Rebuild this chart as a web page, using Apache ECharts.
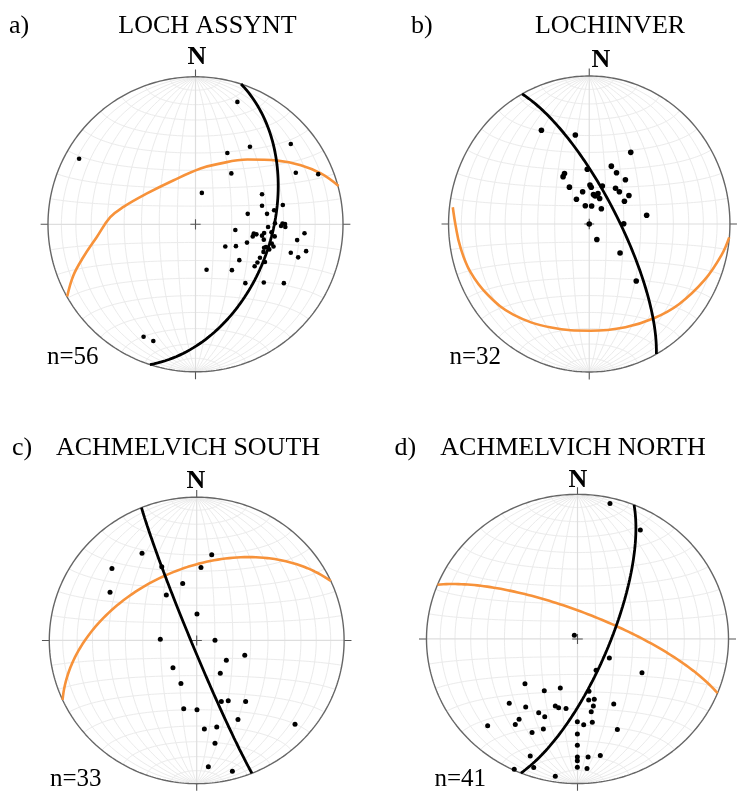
<!DOCTYPE html>
<html><head><meta charset="utf-8">
<script src="https://cdn.jsdelivr.net/npm/echarts@6/dist/echarts.min.js"></script>
<style>html,body{margin:0;padding:0;background:#fff}#c{width:744px;height:798px}</style>
</head><body><div id="c"></div>
<script>
// ---------- DATA (equal-area lower-hemisphere net, unit radius; [east, north]) ----------
const panelLabels = ['a)', 'b)', 'c)', 'd)'];
const siteNames = ['LOCH ASSYNT', 'LOCHINVER', 'ACHMELVICH SOUTH', 'ACHMELVICH NORTH'];
const sampleCounts = [56, 32, 33, 41];

const polesA = [[0.284,0.830],[-0.789,0.444],[0.369,0.526],[0.216,0.483],[0.646,0.544],[0.243,0.345],[0.680,0.350],[0.832,0.340],[0.043,0.213],[0.451,0.204],[0.451,0.126],[0.592,0.131],[0.533,0.095],[0.354,0.071],[0.485,0.071],[0.590,0.005],[0.607,0.002],[0.609,-0.018],[0.580,-0.012],[0.539,0.007],[0.492,-0.018],[0.270,-0.039],[0.395,-0.063],[0.413,-0.068],[0.388,-0.082],[0.451,-0.077],[0.465,-0.059],[0.515,-0.054],[0.537,-0.082],[0.739,-0.061],[0.463,-0.104],[0.349,-0.124],[0.689,-0.107],[0.202,-0.150],[0.274,-0.148],[0.517,-0.131],[0.529,-0.150],[0.465,-0.159],[0.478,-0.154],[0.646,-0.193],[0.750,-0.182],[0.437,-0.227],[0.696,-0.224],[0.297,-0.243],[0.420,-0.259],[0.471,-0.256],[0.401,-0.284],[0.075,-0.308],[0.247,-0.311],[0.338,-0.399],[0.463,-0.395],[0.599,-0.399],[-0.352,-0.762],[-0.286,-0.791],[0.461,-0.187],[0.500,-0.170]];
const polesB = [[-0.340,0.633],[-0.099,0.601],[0.295,0.484],[0.157,0.391],[-0.014,0.370],[-0.176,0.341],[-0.186,0.320],[0.194,0.346],[0.257,0.299],[-0.141,0.249],[0.005,0.264],[0.014,0.248],[0.093,0.257],[0.187,0.242],[0.214,0.218],[-0.047,0.218],[0.030,0.199],[0.062,0.205],[0.074,0.172],[0.282,0.193],[-0.091,0.167],[0.250,0.154],[-0.028,0.123],[0.017,0.122],[0.086,0.103],[0.408,0.059],[0.000,0.000],[0.245,0.002],[0.054,-0.105],[0.219,-0.196],[0.334,-0.385],[0.042,0.189]];
const polesC = [[-0.371,0.609],[0.102,0.599],[-0.575,0.502],[-0.237,0.514],[0.029,0.509],[-0.095,0.398],[-0.588,0.337],[-0.206,0.317],[0.002,0.185],[-0.247,0.009],[0.124,0.002],[0.326,-0.104],[0.201,-0.138],[-0.161,-0.190],[0.160,-0.229],[-0.107,-0.301],[0.167,-0.427],[0.214,-0.421],[0.332,-0.427],[-0.088,-0.477],[0.002,-0.484],[0.280,-0.552],[0.667,-0.585],[0.052,-0.619],[0.136,-0.604],[0.124,-0.717],[0.079,-0.882],[0.242,-0.914]];
const polesD = [[0.215,0.936],[0.416,0.753],[-0.021,0.026],[0.211,-0.132],[0.123,-0.217],[0.427,-0.234],[-0.348,-0.309],[-0.220,-0.358],[-0.114,-0.340],[0.076,-0.362],[0.074,-0.422],[0.111,-0.417],[0.105,-0.464],[-0.452,-0.444],[-0.343,-0.470],[-0.147,-0.464],[-0.125,-0.475],[-0.076,-0.481],[0.240,-0.450],[0.091,-0.503],[-0.257,-0.510],[-0.217,-0.538],[-0.387,-0.556],[-0.412,-0.591],[-0.001,-0.573],[0.041,-0.594],[0.098,-0.576],[-0.595,-0.601],[-0.301,-0.647],[-0.226,-0.623],[0.264,-0.627],[-0.001,-0.658],[-0.001,-0.735],[-0.313,-0.810],[-0.001,-0.817],[-0.001,-0.843],[0.070,-0.817],[0.151,-0.806],[-0.419,-0.901],[-0.290,-0.889],[-0.001,-0.887],[0.063,-0.896],[-0.147,-0.949]];

// black great circles: [dip direction, dip] in degrees
const planeA = [108, 47];
const planeB = [61.5, 74];
const planeC = [248, 87];
const planeD = [112, 73];

// orange girdles: traced curves ([east, north]) for a and b, great circles [dip direction, dip] for c and d
const girdleA = [[-0.870,-0.490],[-0.828,-0.347],[-0.760,-0.222],[-0.669,-0.086],[-0.578,0.048],[-0.488,0.118],[-0.329,0.209],[-0.148,0.299],[0.034,0.378],[0.148,0.408],[0.352,0.439],[0.556,0.432],[0.714,0.401],[0.850,0.345],[0.970,0.260]];
const girdleB = [[-0.970,0.113],[-0.950,-0.010],[-0.918,-0.150],[-0.847,-0.320],[-0.720,-0.480],[-0.540,-0.612],[-0.270,-0.700],[0.009,-0.721],[0.257,-0.697],[0.459,-0.637],[0.640,-0.540],[0.820,-0.378],[0.940,-0.210],[0.995,-0.090]];
const girdleC = [335.5, 48.5];
const girdleD = [22, 75];

// ---------- LAYOUT ----------
const layout = [
  {cx: 195.5, cy: 224.3, R: 147.5, dot: 4.6},
  {cx: 597.3, cy: 224,   R: 148,   dot: 5.6},
  {cx: 196.7, cy: 645,   R: 147.4, dot: 5.0},
  {cx: 577.5, cy: 646,   R: 151,   dot: 5.0}
];
const polesAll = [polesA, polesB, polesC, polesD];
const planesAll = [planeA, planeB, planeC, planeD];
const girdlesAll = [girdleA, girdleB, girdleC, girdleD];

const D2R = Math.PI / 180;
function proj(e, n, d) { const k = 1 / Math.sqrt(1 + d); return [e * k, n * k]; }
function greatCircle(dd, dip, step) {
  const s = (dd - 90) * D2R, a = dd * D2R, b = dip * D2R;
  const sv = [Math.sin(s), Math.cos(s), 0];
  const dv = [Math.cos(b) * Math.sin(a), Math.cos(b) * Math.cos(a), Math.sin(b)];
  const out = [];
  for (let t = 0; t <= 180.0001; t += step) {
    const c = Math.cos(t * D2R), si = Math.sin(t * D2R);
    out.push(proj(c * sv[0] + si * dv[0], c * sv[1] + si * dv[1], Math.max(0, c * sv[2] + si * dv[2])));
  }
  return out;
}
function smallCircleNS(alpha, step) {
  const out = [], ca = Math.cos(alpha * D2R), sa = Math.sin(alpha * D2R);
  for (let p = 0; p <= 180.0001; p += step) {
    out.push(proj(sa * Math.cos(p * D2R), ca, sa * Math.sin(p * D2R)));
  }
  return out;
}
const netLines = [];
for (let dip = 10; dip <= 80; dip += 10) {
  netLines.push({coords: greatCircle(90, dip, 2)});
  netLines.push({coords: greatCircle(270, dip, 2)});
}
for (let al = 10; al <= 170; al += 10) if (al !== 90) netLines.push({coords: smallCircleNS(al, 2)});
const axisLines = [{coords: [[0, -1], [0, 1]]}, {coords: [[-1, 0], [1, 0]]}];
const primitive = [];
for (let t = 0; t <= 360; t += 1) primitive.push([Math.sin(t * D2R), Math.cos(t * D2R)]);
const ticks = [
  {coords: [[0, 1], [0, 1.05]]}, {coords: [[0, -1], [0, -1.05]]},
  {coords: [[1, 0], [1.05, 0]]}, {coords: [[-1, 0], [-1.05, 0]]},
  {coords: [[-0.035, 0], [0.035, 0]]}, {coords: [[0, -0.035], [0, 0.035]]}
];

const EXT = 1.1;
const grids = [], xAxes = [], yAxes = [], series = [];
layout.forEach((L, i) => {
  grids.push({left: L.cx - EXT * L.R, top: L.cy - EXT * L.R, width: 2 * EXT * L.R, height: 2 * EXT * L.R, containLabel: false});
  xAxes.push({type: 'value', gridIndex: i, min: -EXT, max: EXT, show: false});
  yAxes.push({type: 'value', gridIndex: i, min: -EXT, max: EXT, show: false});
  const ax = {xAxisIndex: i, yAxisIndex: i};
  series.push(Object.assign({type: 'lines', coordinateSystem: 'cartesian2d', polyline: true, silent: true, z: 1,
    lineStyle: {color: '#ebebeb', width: 1, opacity: 1}, data: netLines}, ax));
  series.push(Object.assign({type: 'lines', coordinateSystem: 'cartesian2d', polyline: true, silent: true, z: 1,
    lineStyle: {color: '#dedede', width: 1.2, opacity: 1}, data: axisLines}, ax));
  series.push(Object.assign({type: 'line', data: primitive, showSymbol: false, silent: true, clip: false, z: 2,
    lineStyle: {color: '#666', width: 1.4}}, ax));
  series.push(Object.assign({type: 'lines', coordinateSystem: 'cartesian2d', polyline: true, silent: true, z: 2,
    lineStyle: {color: '#555', width: 1.1, opacity: 1}, data: ticks}, ax));
  const g = girdlesAll[i];
  const gData = Array.isArray(g[0]) ? g : greatCircle(g[0], g[1], 1);
  series.push(Object.assign({type: 'line', data: gData, smooth: Array.isArray(g[0]) ? 0.4 : false, showSymbol: false, silent: true, clip: false, z: 3,
    lineStyle: {color: '#f7923a', width: 2.6}}, ax));
  series.push(Object.assign({type: 'line', data: greatCircle(planesAll[i][0], planesAll[i][1], 1), showSymbol: false, silent: true, clip: false, z: 4,
    lineStyle: {color: '#000', width: 2.8}}, ax));
  series.push(Object.assign({type: 'scatter', data: polesAll[i], symbolSize: L.dot, silent: true, z: 5,
    itemStyle: {color: '#000', opacity: 1}}, ax));
});

const serif = '"Liberation Serif", "Times New Roman", serif';
function txt(t, x, y, size, align, bold) {
  return {type: 'text', x: x, y: y, silent: true, z: 10,
    style: {text: t, fill: '#000', font: (bold ? 'bold ' : '') + size + 'px ' + serif, align: align, verticalAlign: 'middle'}};
}
const labelPos = [
  {lab: [9, 26], name: [207.5, 26], N: [197, 57], n: [47, 357]},
  {lab: [411, 26], name: [610, 26], N: [601, 60], n: [449.5, 357]},
  {lab: [12, 448], name: [188, 448], N: [196, 481], n: [50, 779]},
  {lab: [394.5, 448], name: [573, 448], N: [578, 480], n: [434.5, 779]}
];
const graphic = [];
labelPos.forEach((p, i) => {
  graphic.push(txt(panelLabels[i], p.lab[0], p.lab[1], 26, 'left', false));
  graphic.push(txt(siteNames[i], p.name[0], p.name[1], 26, 'center', false));
  graphic.push(txt('N', p.N[0], p.N[1], 26, 'center', true));
  graphic.push(txt('n=' + sampleCounts[i], p.n[0], p.n[1], 25, 'left', false));
});

const chart = echarts.init(document.getElementById('c'), null, {renderer: 'canvas'});
chart.setOption({animation: false, backgroundColor: '#fff', grid: grids, xAxis: xAxes, yAxis: yAxes, series: series, graphic: graphic});
</script></body></html>
